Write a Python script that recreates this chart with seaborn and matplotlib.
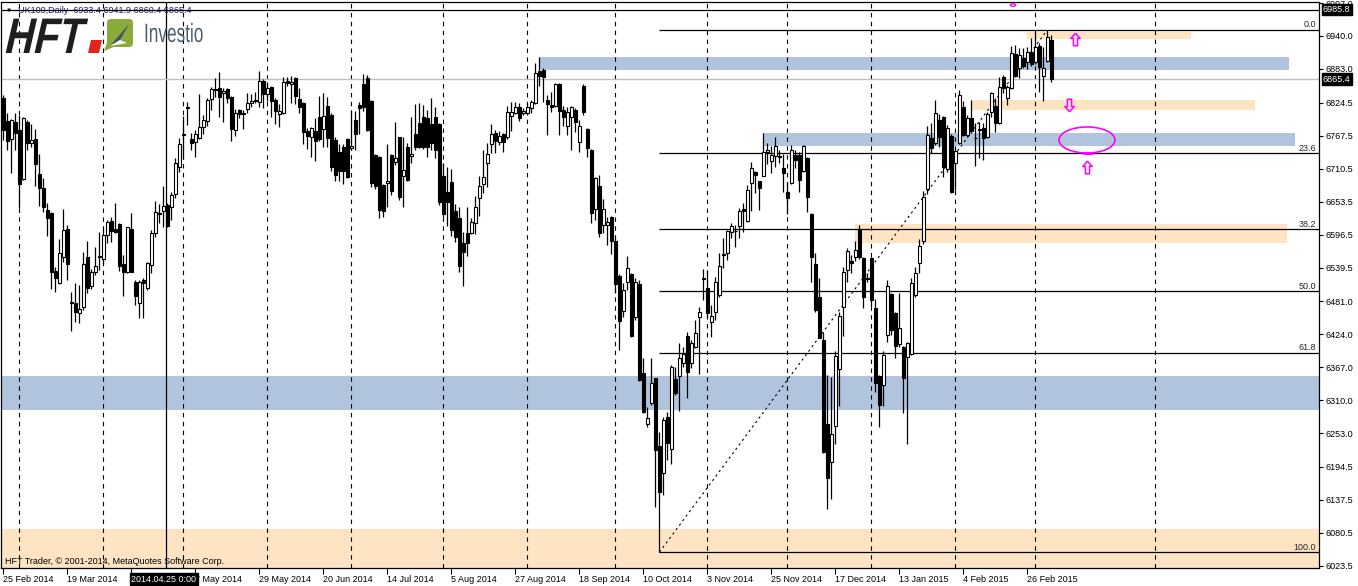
import matplotlib
matplotlib.use('Agg')
import matplotlib.pyplot as plt
from matplotlib.patches import Rectangle, Ellipse, Polygon, PathPatch, FancyBboxPatch
from matplotlib.textpath import TextPath
from matplotlib.font_manager import FontProperties
from matplotlib.transforms import Affine2D
from matplotlib.path import Path
import numpy as np
import pandas as pd
import seaborn as sns

# UK100 daily candles, 25 Feb 2014 - 6 Mar 2015
opens = [6833, 6793, 6762, 6791, 6777, 6693, 6791, 6755, 6762, 6701,
         6677, 6639, 6634, 6533, 6513, 6558, 6606, 6480, 6478, 6461,
         6471, 6558, 6507, 6532, 6560, 6554, 6596, 6620, 6606, 6615,
         6546, 6532, 6606, 6514, 6478, 6518, 6504, 6544, 6599, 6634,
         6637, 6648, 6644, 6667, 6713, 6768, 6816, 6762, 6757, 6764,
         6783, 6793, 6831, 6849, 6850, 6841, 6848, 6834, 6777, 6812,
         6807, 6814, 6824, 6829, 6826, 6862, 6840, 6852, 6829, 6805,
         6807, 6862, 6857, 6867, 6831, 6824, 6776, 6765, 6776, 6800,
         6779, 6819, 6803, 6760, 6739, 6748, 6762, 6747, 6795, 6821,
         6857, 6867, 6828, 6734, 6731, 6682, 6686, 6734, 6722, 6765,
         6698, 6748, 6733, 6771, 6790, 6800, 6798, 6788, 6800, 6788,
         6698, 6670, 6687, 6637, 6625, 6582, 6599, 6599, 6616, 6660,
         6684, 6720, 6753, 6772, 6757, 6771, 6765, 6802, 6807, 6817,
         6807, 6807, 6815, 6824, 6880, 6881, 6829, 6821, 6819, 6857,
         6812, 6784, 6800, 6812, 6757, 6854, 6779, 6743, 6641, 6681,
         6613, 6613, 6627, 6585, 6525, 6464, 6514, 6528, 6454, 6511,
         6357, 6269, 6305, 6348, 6231, 6184, 6281, 6226, 6347, 6352,
         6374, 6421, 6374, 6402, 6454, 6521, 6504, 6445, 6463, 6492,
         6563, 6565, 6601, 6603, 6611, 6640, 6620, 6686, 6705, 6689,
         6698, 6740, 6724, 6732, 6731, 6712, 6670, 6686, 6734, 6734,
         6706, 6729, 6632, 6546, 6488, 6414, 6269, 6203, 6265, 6364,
         6471, 6535, 6551, 6558, 6604, 6556, 6522, 6556, 6469, 6352,
         6336, 6423, 6494, 6461, 6407, 6402, 6385, 6390, 6492, 6547,
         6585, 6675, 6764, 6755, 6795, 6800, 6710, 6767, 6720, 6755,
         6817, 6769, 6798, 6764, 6778, 6781, 6765, 6809, 6819, 6790,
         6869, 6833, 6850, 6909, 6885, 6902, 6895, 6912, 6895, 6923,
         6871, 6897, 6933.4]
highs = [6838, 6807, 6796, 6807, 6803, 6800, 6795, 6788, 6779, 6736,
         6694, 6651, 6635, 6540, 6589, 6641, 6613, 6497, 6513, 6509,
         6566, 6585, 6537, 6575, 6601, 6608, 6622, 6627, 6651, 6617,
         6561, 6610, 6634, 6518, 6518, 6521, 6549, 6604, 6655, 6649,
         6681, 6651, 6670, 6729, 6764, 6802, 6826, 6772, 6777, 6840,
         6803, 6833, 6852, 6867, 6878, 6850, 6850, 6836, 6814, 6814,
         6812, 6841, 6840, 6843, 6880, 6866, 6860, 6853, 6833, 6822,
         6869, 6869, 6871, 6869, 6850, 6826, 6781, 6783, 6798, 6836,
         6842, 6834, 6807, 6765, 6753, 6753, 6764, 6812, 6810, 6826,
         6874, 6873, 6829, 6736, 6733, 6684, 6753, 6736, 6791, 6766,
         6765, 6755, 6800, 6822, 6824, 6821, 6812, 6833, 6817, 6790,
         6720, 6713, 6710, 6649, 6644, 6601, 6644, 6625, 6663, 6698,
         6743, 6755, 6788, 6777, 6776, 6772, 6819, 6826, 6826, 6824,
         6815, 6824, 6829, 6894, 6904, 6885, 6838, 6843, 6859, 6859,
         6819, 6817, 6819, 6815, 6795, 6857, 6781, 6745, 6696, 6700,
         6658, 6627, 6629, 6591, 6528, 6513, 6560, 6530, 6521, 6518,
         6383, 6298, 6383, 6349, 6255, 6281, 6290, 6371, 6367, 6409,
         6402, 6428, 6414, 6449, 6471, 6537, 6535, 6475, 6523, 6565,
         6591, 6604, 6617, 6613, 6642, 6651, 6682, 6722, 6707, 6690,
         6772, 6755, 6750, 6765, 6743, 6736, 6687, 6751, 6743, 6739,
         6751, 6730, 6634, 6565, 6521, 6428, 6354, 6350, 6395, 6463,
         6540, 6573, 6561, 6585, 6613, 6558, 6530, 6558, 6485, 6354,
         6395, 6518, 6495, 6463, 6495, 6403, 6411, 6521, 6540, 6589,
         6672, 6784, 6790, 6829, 6805, 6802, 6786, 6771, 6746, 6847,
         6828, 6803, 6829, 6790, 6791, 6790, 6809, 6843, 6833, 6869,
         6873, 6855, 6923, 6925, 6919, 6919, 6921, 6937, 6947, 6928,
         6921, 6950.4, 6941.9]
lows = [6760, 6743, 6703, 6743, 6643, 6691, 6743, 6748, 6681, 6646,
        6636, 6594, 6502, 6497, 6511, 6549, 6518, 6430, 6445, 6443,
        6466, 6495, 6502, 6527, 6535, 6546, 6582, 6584, 6599, 6533,
        6490, 6530, 6531, 6475, 6452, 6452, 6501, 6530, 6592, 6617,
        6610, 6610, 6622, 6660, 6705, 6727, 6786, 6743, 6731, 6762,
        6771, 6784, 6812, 6834, 6800, 6791, 6824, 6758, 6767, 6798,
        6779, 6807, 6817, 6824, 6817, 6815, 6828, 6800, 6788, 6783,
        6805, 6854, 6824, 6822, 6807, 6753, 6745, 6731, 6724, 6758,
        6748, 6748, 6706, 6689, 6689, 6684, 6694, 6743, 6743, 6771,
        6810, 6776, 6679, 6675, 6625, 6627, 6644, 6665, 6717, 6656,
        6644, 6689, 6720, 6743, 6746, 6745, 6731, 6743, 6729, 6648,
        6627, 6611, 6594, 6584, 6532, 6508, 6559, 6597, 6597, 6629,
        6668, 6679, 6738, 6738, 6751, 6739, 6762, 6776, 6805, 6793,
        6803, 6803, 6807, 6822, 6854, 6826, 6769, 6808, 6817, 6769,
        6784, 6769, 6743, 6774, 6739, 6803, 6731, 6616, 6622, 6592,
        6599, 6578, 6563, 6495, 6397, 6454, 6501, 6419, 6449, 6343,
        6287, 6264, 6302, 6125, 6047, 6146, 6207, 6200, 6319, 6291,
        6367, 6314, 6366, 6400, 6355, 6483, 6454, 6419, 6449, 6488,
        6539, 6553, 6591, 6575, 6591, 6601, 6618, 6637, 6668, 6639,
        6697, 6719, 6703, 6713, 6720, 6670, 6632, 6684, 6712, 6670,
        6705, 6636, 6514, 6463, 6417, 6218, 6122, 6139, 6234, 6300,
        6421, 6514, 6530, 6551, 6554, 6469, 6514, 6473, 6324, 6264,
        6300, 6411, 6423, 6383, 6402, 6288, 6234, 6388, 6488, 6530,
        6580, 6667, 6738, 6751, 6748, 6696, 6705, 6668, 6674, 6754,
        6767, 6765, 6772, 6715, 6729, 6726, 6764, 6800, 6774, 6788,
        6841, 6821, 6848, 6869, 6867, 6885, 6883, 6888, 6892, 6843,
        6828, 6895, 6860.4]
closes = [6777, 6758, 6795, 6772, 6684, 6798, 6755, 6760, 6719, 6677,
          6644, 6625, 6532, 6521, 6565, 6604, 6546, 6478, 6463, 6468,
          6546, 6504, 6532, 6542, 6558, 6596, 6618, 6603, 6601, 6542,
          6532, 6609, 6532, 6490, 6514, 6513, 6547, 6599, 6636, 6632,
          6646, 6611, 6665, 6720, 6753, 6771, 6818, 6755, 6771, 6783,
          6795, 6829, 6848, 6847, 6834, 6845, 6833, 6779, 6807, 6805,
          6805, 6824, 6828, 6827, 6862, 6840, 6850, 6828, 6810, 6810,
          6860, 6859, 6860, 6836, 6817, 6774, 6767, 6781, 6758, 6762,
          6802, 6764, 6713, 6700, 6706, 6706, 6696, 6749, 6771, 6815,
          6817, 6777, 6686, 6681, 6639, 6637, 6689, 6672, 6729, 6661,
          6708, 6691, 6735, 6748, 6748, 6748, 6748, 6755, 6743, 6653,
          6632, 6653, 6604, 6592, 6542, 6566, 6582, 6618, 6644, 6681,
          6696, 6736, 6771, 6758, 6767, 6757, 6809, 6809, 6817, 6798,
          6810, 6817, 6826, 6876, 6871, 6869, 6822, 6817, 6857, 6810,
          6800, 6809, 6817, 6791, 6784, 6809, 6746, 6634, 6694, 6599,
          6641, 6618, 6585, 6511, 6447, 6501, 6539, 6421, 6514, 6345,
          6289, 6279, 6340, 6224, 6151, 6276, 6236, 6367, 6322, 6383,
          6390, 6359, 6409, 6426, 6463, 6519, 6461, 6456, 6514, 6542,
          6562, 6603, 6611, 6602, 6637, 6638, 6674, 6712, 6700, 6677,
          6739, 6743, 6734, 6750, 6732, 6703, 6660, 6743, 6725, 6691,
          6750, 6661, 6558, 6466, 6418, 6220, 6175, 6252, 6386, 6456,
          6532, 6568, 6547, 6570, 6558, 6489, 6520, 6483, 6340, 6302,
          6388, 6507, 6431, 6404, 6435, 6348, 6409, 6513, 6530, 6577,
          6661, 6769, 6746, 6807, 6765, 6713, 6781, 6670, 6741, 6838,
          6769, 6798, 6776, 6763, 6779, 6764, 6805, 6841, 6790, 6852,
          6850, 6852, 6911, 6871, 6907, 6888, 6912, 6892, 6921, 6886,
          6885, 6938, 6865.4]

# the label under the cursor date box is hidden in the reference, so it stays empty
date_ticks = [0, 16, 32, 48, 64, 80, 96, 112, 128, 144, 160, 176, 192, 208, 224, 240, 256]
date_labels = ['25 Feb 2014', '19 Mar 2014', '', '7 May 2014', '29 May 2014',
               '20 Jun 2014', '14 Jul 2014', '5 Aug 2014', '27 Aug 2014', '18 Sep 2014',
               '10 Oct 2014', '3 Nov 2014', '25 Nov 2014', '17 Dec 2014', '13 Jan 2015',
               '4 Feb 2015', '26 Feb 2015']
month_starts = [4, 25, 45, 66, 87, 110, 131, 153, 176, 196, 217, 238, 258, 288]
price_ticks = [6997.0, 6940.0, 6883.0, 6824.5, 6767.5, 6710.5, 6653.5, 6596.5, 6539.5,
               6481.0, 6424.0, 6367.0, 6310.0, 6253.0, 6194.5, 6137.5, 6080.5, 6023.5]
fib_levels = [0.0, 23.6, 38.2, 50.0, 61.8, 100.0]

# support / resistance boxes
zone_low = [6881, 6935, 6812, 6750, 6582, 6293, 5990]
zone_high = [6903, 6947.5, 6830, 6773, 6615, 6351, 6087]
zone_from = [134, 255.8, 242, 190, 213, -5, -5]
zone_to = [321.5, 297, 313, 323, 321, 335, 335]
zone_kind = ['blue', 'orange', 'orange', 'blue', 'orange', 'blue', 'orange']

cursor_bar = 40.7
cursor_price = 6985.8

sns.set_theme(style='white')
plt.rcParams['font.family'] = ['Liberation Sans', 'DejaVu Sans']

df = pd.DataFrame({'open': opens, 'high': highs, 'low': lows, 'close': closes})
df['bar'] = np.arange(len(df))
df['rising'] = df['close'] >= df['open']

fig = plt.figure(figsize=(13.58, 5.86), dpi=100)
ax = fig.add_axes([1 / 1358, 18 / 586, 1318 / 1358, 566 / 586])
ax.set_facecolor('white')
ax.set_xlim(-0.6, 328.9)
ax.set_ylim(6019.7, 6998.8)

zone_colors = {'blue': '#b0c4de', 'orange': '#ffe4c4'}
for lo, hi, a, b, k in zip(zone_low, zone_high, zone_from, zone_to, zone_kind):
    ax.add_patch(Rectangle((a, lo), b - a, hi - lo, facecolor=zone_colors[k], lw=0, zorder=0))

for m in month_starts:
    ax.axvline(m, color='black', lw=0.8, ls=(0, (4, 4)), zorder=1)

# cursor cross and last price line
ax.axvline(cursor_bar, color='black', lw=0.9, zorder=1)
ax.axhline(cursor_price, color='black', lw=0.9, zorder=1)
ax.axhline(df['close'].iloc[-1], color='#c0c0c0', lw=1, zorder=1)

# fibonacci retracement
lo_bar = df['low'].idxmin()
hi_bar = df['high'].idxmax()
lo_p = df['low'].min()
hi_p = df['high'].max()
for r in fib_levels:
    p = hi_p - r / 100 * (hi_p - lo_p)
    ax.hlines(p, lo_bar, 330, color='black', lw=0.9, zorder=2)
    ax.text(328.2, p + 1, f'{r:.1f}', ha='right', va='bottom', fontsize=6.5, zorder=6)
sns.lineplot(x=[lo_bar, hi_bar], y=[lo_p, hi_p], ax=ax, color='black', lw=0.8,
             linestyle=(0, (2, 3)), zorder=2)

# candles
ax.vlines(df['bar'], df['low'], df['high'], color='black', lw=0.9, zorder=3)
ax.bar(df['bar'], (df['close'] - df['open']).abs(), bottom=df[['open', 'close']].min(axis=1),
       width=0.62, color=np.where(df['rising'], 'white', 'black'), edgecolor='black',
       linewidth=0.8, zorder=4)

# hand drawn marks
mag = '#ff00ff'
arrow = Path([(0, 0.6), (0.45, 0.1), (0.2, 0.1), (0.2, -0.6), (-0.2, -0.6), (-0.2, 0.1),
              (-0.45, 0.1), (0, 0.6)])
arrow_dn = Path([(x, -y) for x, y in arrow.vertices])
ax.plot([267.9, 270.9], [6934.8, 6713.4], ls='none', marker=arrow, markersize=9,
        markerfacecolor='none', markeredgecolor=mag, markeredgewidth=1.1, zorder=6)
ax.plot([266.4], [6820.7], ls='none', marker=arrow_dn, markersize=9,
        markerfacecolor='none', markeredgecolor=mag, markeredgewidth=1.1, zorder=6)
ax.add_patch(Ellipse((270.9, 6760.1), 14, 45, fill=False, ec=mag, lw=1.2, zorder=6))
ax.hlines(6737.8, 270, 272.5, color=mag, lw=2.2, zorder=6)
ax.add_patch(Ellipse((252.4, 6993.6), 1.3, 4.5, fill=False, ec=mag, lw=1, zorder=6, clip_on=False))

# axes look
for s in ax.spines.values():
    s.set_color('black')
    s.set_linewidth(0.9)
ax.yaxis.tick_right()
ax.set_yticks(price_ticks)
ax.set_yticklabels([f'{v:.1f}' for v in price_ticks])
ax.tick_params(axis='y', right=True, left=False, labelright=True, labelleft=False,
               length=3, width=0.8, pad=2, labelsize=6.5, colors='black', direction='out')
ax.set_xticks(date_ticks)
ax.set_xticklabels(date_labels)
ax.tick_params(axis='x', bottom=True, length=4, width=0.8, pad=1, labelsize=6.5,
               colors='black', direction='out')
for t in ax.get_xticklabels():
    t.set_ha('left')
ax.set_xlabel('')
ax.set_ylabel('')
ax.grid(False)

box = dict(boxstyle='square,pad=0.15', fc='black', ec='black')
ax.text(1.003, cursor_price, f'{cursor_price:.1f}', transform=ax.get_yaxis_transform(),
        ha='left', va='center', color='white', fontsize=6.5, bbox=box, clip_on=False, zorder=10)
ax.text(1.003, df['close'].iloc[-1], f"{df['close'].iloc[-1]:.1f}", transform=ax.get_yaxis_transform(),
        ha='left', va='center', color='white', fontsize=6.5, bbox=box, clip_on=False, zorder=10)
ax.text(cursor_bar - 0.6, -0.012, '2014.04.25 0:00', transform=ax.get_xaxis_transform(),
        ha='center', va='top', color='white', fontsize=6.5, bbox=box, clip_on=False, zorder=10)

# overlay in pixel units for header, logo and footer
deco = fig.add_axes([0, 0, 1, 1], zorder=5)
deco.set_xlim(0, 1358)
deco.set_ylim(586, 0)
deco.axis('off')
deco.patch.set_visible(False)

deco.text(6, 10, '\u25bc', fontsize=4.5, va='center', color='black')
deco.text(18, 10.5, f'UK100,Daily  {opens[-1]:.1f} {highs[-1]:.1f} {lows[-1]:.1f} {closes[-1]:.1f}',
          fontsize=6.5, va='center', color='#1c1c5c')
deco.text(5, 561, 'HFT Trader, \u00a9 2001-2014, MetaQuotes Software Corp.', fontsize=6.5,
          va='center', color='black')


def logo_text(s, x, y, size, sx, color, skew=0, **fp):
    tp = TextPath((0, 0), s, size=size, prop=FontProperties(family='Liberation Sans', **fp))
    tr = Affine2D().skew_deg(skew, 0).scale(sx, -1).translate(x, y) + deco.transData
    deco.add_patch(PathPatch(tp, transform=tr, fc=color, ec='none'))


logo_text('HFT', 3, 53, 50, 0.8, '#1e1e1e', skew=16, weight='bold')
deco.add_patch(Polygon([(88, 53), (99, 53), (102, 40), (91, 40)], closed=True, fc='#e3241b', ec='none'))
deco.add_patch(FancyBboxPatch((107, 19), 26, 28, boxstyle='round,pad=0,rounding_size=4',
                              fc='#8aab3b', ec='none'))
deco.add_patch(Polygon([(108, 40), (104, 51), (116, 46)], closed=True, fc='#8aab3b', ec='none'))
deco.add_patch(Polygon([(110, 46), (129, 24), (120, 40)], closed=True, fc='#3e5363', ec='none'))
deco.add_patch(Polygon([(110, 46), (120, 40), (127, 43)], closed=True, fc='white', ec='none'))
logo_text('Investio', 144, 42, 26.5, 0.65, '#4d6070')

fig.savefig('out.png', dpi=100, facecolor='white')
